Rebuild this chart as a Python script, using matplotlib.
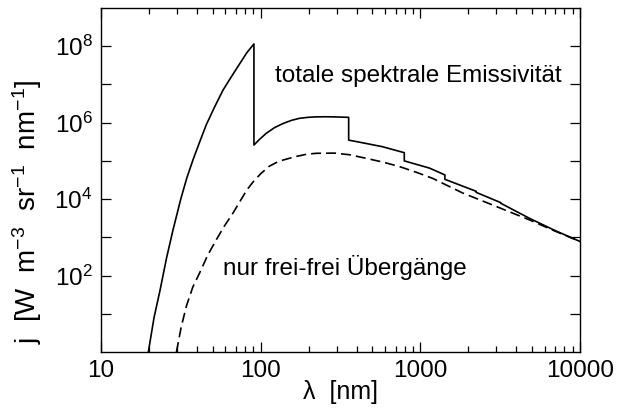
import matplotlib
matplotlib.use("Agg")
import matplotlib.pyplot as plt
from matplotlib.ticker import FixedLocator, NullFormatter

plt.rcParams['font.family'] = ['Liberation Sans', 'DejaVu Sans']
plt.rcParams['mathtext.fontset'] = 'custom'
plt.rcParams['mathtext.rm'] = 'Liberation Sans'
plt.rcParams['mathtext.it'] = 'Liberation Sans'

# total spectral emissivity (solid)
lam_total = [19.8, 21.5, 23.4, 25.8, 28.3, 31.6, 34.5, 37.8, 41.6, 45.7, 51.3, 58.1, 65.6, 74.0, 82.0, 90.8,
             90.8, 98, 108, 122, 138, 156, 175, 198, 223, 255, 285, 320, 356,
             356, 450, 580, 794,
             794, 1140, 1426,
             1426, 2240,
             2240, 3190,
             3190, 4790, 7000, 10000]
j_total = [1.0, 8.0, 40, 3.0e2, 1.6e3, 1.0e4, 3.6e4, 1.1e5, 3.2e5, 8.9e5, 2.5e6, 7.1e6, 1.6e7, 3.5e7, 6.8e7, 1.15e8,
           2.6e5, 3.6e5, 5.2e5, 7.4e5, 9.5e5, 1.15e6, 1.3e6, 1.38e6, 1.42e6, 1.43e6, 1.42e6, 1.4e6, 1.38e6,
           3.5e5, 2.9e5, 2.35e5, 1.64e5,
           1.0e5, 6.5e4, 4.3e4,
           3.3e4, 1.6e4,
           1.5e4, 8.1e3,
           7.8e3, 3.2e3, 1.5e3, 7.8e2]

# free-free only (dashed)
lam_ff = [29.7, 31.8, 34.3, 37.6, 41.6, 46.6, 52.8, 59.4, 67.1, 75.7, 82.5, 90.2, 100, 113, 125, 138, 166,
          195, 223, 290, 360, 457, 590, 741, 950, 1194, 1840, 2970, 4790, 7000, 10000]
j_ff = [1.0, 4.5, 16, 50, 1.2e2, 3.4e2, 8.7e2, 2.0e3, 4.3e3, 1.0e4, 1.8e4, 2.9e4, 4.6e4, 7.2e4, 9.0e4, 1.05e5, 1.3e5,
        1.5e5, 1.58e5, 1.6e5, 1.45e5, 1.17e5, 9.2e4, 7.1e4, 5.0e4, 3.5e4, 1.45e4, 6.5e3, 2.9e3, 1.45e3, 7.8e2]

x_ticks = [10, 100, 1000, 10000]
x_labels = ['10', '100', '1000', '10000']
y_ticks = [1e2, 1e4, 1e6, 1e8]
y_labels = ['$10^{2}$', '$10^{4}$', '$10^{6}$', '$10^{8}$']

fig = plt.figure(figsize=(6.18, 4.08), dpi=100)
ax = fig.add_axes([0.1634, 0.1373, 0.775, 0.843])

ax.plot(lam_total, j_total, color='black', lw=1.2)
ax.plot(lam_ff, j_ff, color='black', lw=1.2, linestyle=(0, (6, 3)))

ax.set_xscale('log')
ax.set_yscale('log')
ax.set_xlim(10, 10000)
ax.set_ylim(1, 1e9)

ax.xaxis.set_major_locator(FixedLocator(x_ticks))
ax.set_xticklabels(x_labels)
minor_x = [m * d for d in (10, 100, 1000) for m in range(2, 10)]
ax.xaxis.set_minor_locator(FixedLocator(minor_x))
ax.xaxis.set_minor_formatter(NullFormatter())

ax.yaxis.set_major_locator(FixedLocator(y_ticks))
ax.set_yticklabels(y_labels)
ax.yaxis.set_minor_locator(FixedLocator([10.0 ** k for k in (1, 3, 5, 7)]))
ax.yaxis.set_minor_formatter(NullFormatter())

ax.tick_params(which='both', direction='in', top=True, right=True, labelsize=17.5, width=0.9)
ax.tick_params(which='major', length=7, pad=6)
ax.tick_params(axis='x', which='minor', length=4)
ax.tick_params(axis='y', which='minor', length=7)
for s in ax.spines.values():
    s.set_linewidth(1.0)

ax.set_xlabel('λ  [nm]', fontsize=18, labelpad=-2)
fig.text(27 / 618, 1 - 212 / 408, r'j  [W  m$^{-3}$  sr$^{-1}$  nm$^{-1}$]',
         rotation=90, ha='center', va='center', fontsize=20)

fig.text(275 / 618, 1 - 76 / 408, 'totale spektrale Emissivität',
         ha='left', va='center', fontsize=17.5)
fig.text(223 / 618, 1 - 267 / 408, 'nur frei-frei Übergänge',
         ha='left', va='center', fontsize=17.5)

fig.savefig('out.png', dpi=100)
